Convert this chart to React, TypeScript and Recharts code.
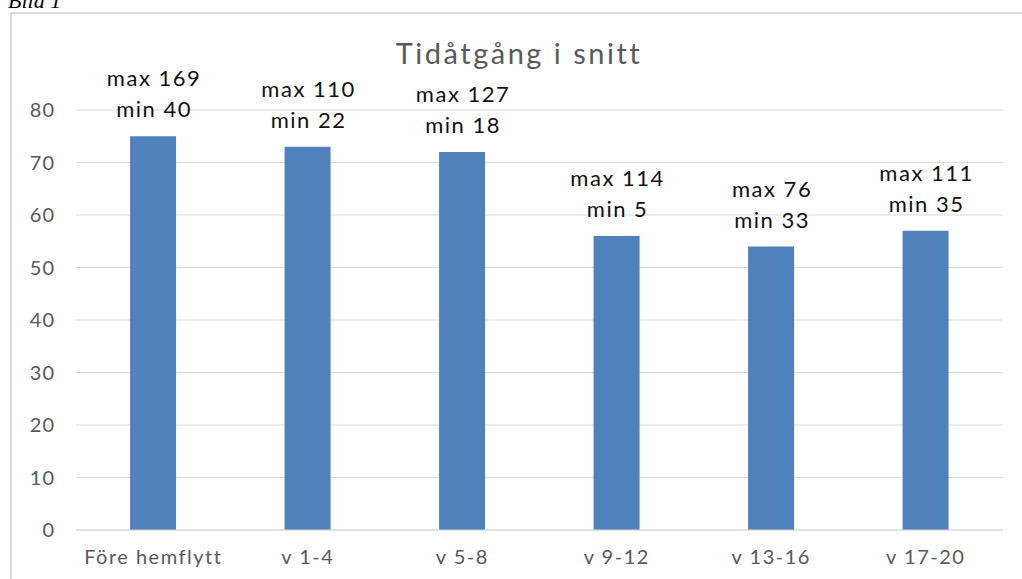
import React from 'react';
import {
  BarChart,
  Bar,
  XAxis,
  YAxis,
  CartesianGrid,
  LabelList
} from 'recharts';

// Average time spent per period, with max/min noted above each bar
const categories = ['Före hemflytt', 'v 1-4', 'v 5-8', 'v 9-12', 'v 13-16', 'v 17-20'];
const averages = [75, 73, 72, 56, 54, 57];
const maxValues = [169, 110, 127, 114, 76, 111];
const minValues = [40, 22, 18, 5, 33, 35];
const yTicks = [0, 10, 20, 30, 40, 50, 60, 70, 80];

const BAR_COLOR = '#4f81bd';
const GRID = '#d9d9d9';
const AXIS_TEXT = '#595959';
const FONT = 'Lato, "Open Sans", sans-serif';

const data = categories.map((name, i) => ({
  name,
  value: averages[i],
  max: maxValues[i],
  min: minValues[i]
}));

// two-line label: "max N" over "min N", centred above the bar
function MaxMinLabel(props: any) {
  const { x, y, width, index } = props;
  const cx = Number(x) + Number(width) / 2 + 1;
  const top = Number(y);
  const row = data[index];
  const style = { letterSpacing: '1.5px' };
  return (
    <g>
      <text x={cx} y={top - 50} textAnchor="middle" fill="#111" fontSize={22} fontFamily={FONT} style={style}>
        {`max ${row.max}`}
      </text>
      <text x={cx} y={top - 19} textAnchor="middle" fill="#111" fontSize={22} fontFamily={FONT} style={style}>
        {`min ${row.min}`}
      </text>
    </g>
  );
}

export default function App() {
  return (
    <div style={{ position: 'absolute', left: 0, top: 0, width: 1022, height: 579, overflow: 'hidden', background: '#fff' }}>
      <div
        style={{
          position: 'absolute',
          left: 8,
          top: -10,
          fontFamily: '"Liberation Serif", serif',
          fontStyle: 'italic',
          fontSize: 22,
          lineHeight: '22px',
          color: '#000'
        }}
      >
        Bild 1
      </div>
      <div
        style={{
          position: 'absolute',
          left: 10,
          top: 12,
          width: 1040,
          height: 620,
          border: `2px solid ${GRID}`
        }}
      />
      <div
        style={{
          position: 'absolute',
          left: 10,
          width: 1018,
          top: 36,
          textAlign: 'center',
          fontFamily: FONT,
          fontSize: 29,
          letterSpacing: '2.5px',
          color: AXIS_TEXT,
          lineHeight: '34px'
        }}
      >
        Tidåtgång i snitt
      </div>
      <div style={{ position: 'absolute', left: 0, top: 0 }}>
        <BarChart
          width={1022}
          height={579}
          data={data}
          margin={{ top: 110, right: 19, bottom: 0, left: 0 }}
          barCategoryGap="35%"
        >
          <CartesianGrid vertical={false} stroke={GRID} />
          <XAxis
            dataKey="name"
            height={49}
            tickLine={false}
            axisLine={{ stroke: GRID }}
            tickMargin={14}
            tick={{ fill: AXIS_TEXT, fontSize: 20, fontFamily: FONT, style: { letterSpacing: '1.5px' } }}
            interval={0}
          />
          <YAxis
            width={76}
            domain={[0, 80]}
            ticks={yTicks}
            tickLine={false}
            axisLine={false}
            tickMargin={15}
            tick={{ fill: AXIS_TEXT, fontSize: 20, fontFamily: FONT, style: { letterSpacing: '1px' } }}
          />
          <Bar dataKey="value" fill={BAR_COLOR} isAnimationActive={false}>
            <LabelList dataKey="value" content={<MaxMinLabel />} />
          </Bar>
        </BarChart>
      </div>
    </div>
  );
}
